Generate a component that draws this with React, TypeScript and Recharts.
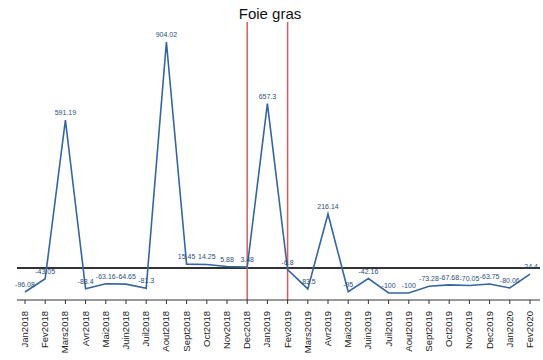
import React from "react";
import { LineChart, Line, XAxis, YAxis, ReferenceLine, LabelList } from "recharts";

const months = [
  "Jan2018", "Fev2018", "Mars2018", "Avr2018", "Mai2018", "Juin2018", "Juil2018",
  "Aout2018", "Sept2018", "Oct2018", "Nov2018", "Dec2018", "Jan2019", "Fev2019",
  "Mars2019", "Avr2019", "Mai2019", "Juin2019", "Juil2019", "Aout2019", "Sept2019",
  "Oct2019", "Nov2019", "Dec2019", "Jan2020", "Fev2020",
];

const values = [
  -96.08, -43.05, 591.19, -83.4, -63.16, -64.65, -81.3,
  904.02, 15.45, 14.25, 5.88, 3.48, 657.3, -6.8,
  -83.5, 216.14, -95, -42.16, -100, -100, -73.28,
  -67.68, -70.05, -63.75, -80.06, -24.4,
];

const markers = ["Dec2018", "Fev2019"];

const data = months.map((m, i) => ({ month: m, value: values[i] }));

const Tick = (props: any) => {
  const { x, y, payload } = props;
  return (
    <text
      x={0}
      y={0}
      transform={`translate(${x + 3},${y + 5}) rotate(-90)`}
      textAnchor="end"
      fontSize={9.5}
      fontFamily="Liberation Sans, Arial, sans-serif"
      fill="#222"
    >
      {payload.value}
    </text>
  );
};

export default function App() {
  return (
    <div style={{ position: "absolute", left: 0, top: 0, width: 543, height: 360, background: "#fff" }}>
      <div
        style={{
          position: "absolute",
          top: 5,
          left: 270,
          transform: "translateX(-50%)",
          fontFamily: "Liberation Sans, Arial, sans-serif",
          fontSize: 15,
          lineHeight: "17px",
          color: "#111",
          background: "#fff",
          whiteSpace: "nowrap",
          zIndex: 2,
        }}
      >
        Foie gras
      </div>
      <LineChart width={543} height={360} data={data} margin={{ top: 22, right: 3, bottom: 5, left: 17 }}>
        <XAxis
          dataKey="month"
          interval={0}
          height={55}
          padding={{ left: 8, right: 10 }}
          tick={<Tick />}
          tickLine={{ stroke: "#333" }}
          tickSize={4}
          axisLine={{ stroke: "#333", strokeWidth: 1.2 }}
        />
        <YAxis
          width={0}
          type="number"
          domain={[-128, 984]}
          allowDataOverflow
          tick={false}
          tickLine={false}
          axisLine={{ stroke: "#333", strokeWidth: 1.5 }}
        />
        <ReferenceLine y={0} stroke="#333" strokeWidth={2} />
        {markers.map((m) => (
          <ReferenceLine key={m} x={m} stroke="#e05a5a" strokeWidth={1.5} />
        ))}
        <Line
          type="linear"
          dataKey="value"
          stroke="#3566a0"
          strokeWidth={1.6}
          dot={false}
          isAnimationActive={false}
        >
          <LabelList dataKey="value" position="top" fontSize={7} fill="#2b4f80" fontFamily="Liberation Sans, Arial, sans-serif" />
        </Line>
      </LineChart>
    </div>
  );
}
